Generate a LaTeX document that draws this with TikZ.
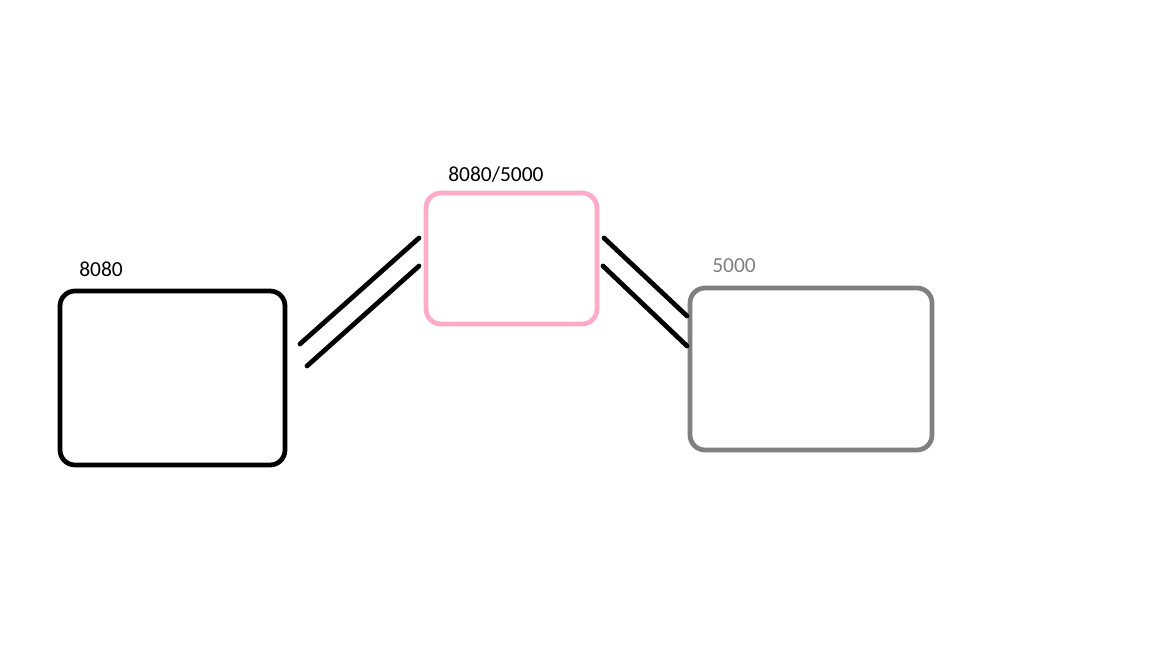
\documentclass[tikz,border=0pt]{standalone}
\usepackage{fontspec}
\setmainfont{Carlito}
\definecolor{pinkline}{RGB}{255,170,200}
\definecolor{grayline}{RGB}{128,128,128}
\begin{document}
\begin{tikzpicture}[
	box/.style={ draw, line width=2.7pt, rounded corners=0.3cm, inner sep=0pt },
	boxp/.style={ box, draw=pinkline },
	boxg/.style={ box, draw=grayline },
	port/.style={ inner sep=0pt, anchor=west, font=\fontsize{12.2}{14}\selectfont },
	wire/.style={ line width=2.7pt, line cap=round }
]
\useasboundingbox (0,0) rectangle (23.04,12.96);

\node at (3.45,5.40) (client) [box,minimum width=4.5cm,minimum height=3.48cm] {};
\node at (10.23,7.79) (proxy) [boxp,minimum width=3.42cm,minimum height=2.62cm] {};
\node at (16.22,5.58) (server) [boxg,minimum width=4.84cm,minimum height=3.24cm] {};

\node at (1.58,7.58) (clientport) [port] {8080};
\node at (8.96,9.46) (proxyport) [port] {8080/5000};
\node at (14.24,7.64) (serverport) [port,text=grayline] {5000};

\coordinate (l1a) at (6.00,6.08);
\coordinate (l1b) at (8.38,8.20);
\coordinate (l2a) at (6.14,5.64);
\coordinate (l2b) at (8.38,7.64);
\coordinate (r1a) at (12.08,8.20);
\coordinate (r1b) at (13.74,6.64);
\coordinate (r2a) at (12.06,7.64);
\coordinate (r2b) at (13.74,6.04);
\foreach \p in {l1,l2,r1,r2} \draw[wire] (\p a) -- (\p b);

\end{tikzpicture}
\end{document}
